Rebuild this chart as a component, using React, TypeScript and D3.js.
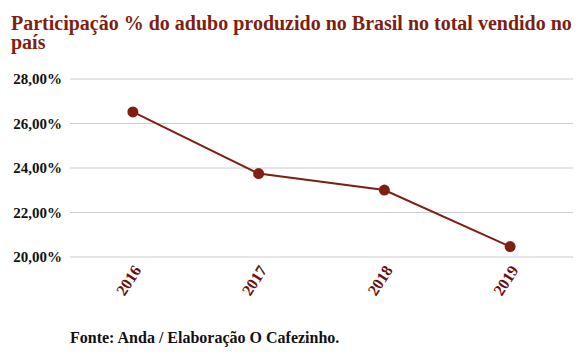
import React from "react";
import * as d3 from "d3";

const years = ["2016", "2017", "2018", "2019"];
const shares = [26.52, 23.75, 23.01, 20.47];
const yTicks = [20, 22, 24, 26, 28];
const title1 = "Participação % do adubo produzido no Brasil no total vendido no";
const title2 = "país";
const source = "Fonte: Anda / Elaboração O Cafezinho.";

export default function App() {
  const W = 581, H = 356;
  const left = 70, right = 573, top = 79, bottom = 257;
  const x = d3.scaleBand<string>().domain(years).range([left, right]);
  const y = d3.scaleLinear().domain([20, 28]).range([bottom, top]);
  const fmt = (v: number) => v.toFixed(2).replace(".", ",") + "%";
  const line = d3.line<number>().x((_, i) => x(years[i])! + x.bandwidth() / 2).y((d) => y(d));
  const red = "#7f1f12";
  return (
    <svg width={W} height={H} style={{ position: "absolute", left: 0, top: 0, fontFamily: "'Liberation Serif', serif" }}>
      <rect width={W} height={H} fill="#fff" />
      <text x={11} y={30} fontSize={20} fontWeight="bold" fill={red}>{title1}</text>
      <text x={11} y={49} fontSize={20} fontWeight="bold" fill={red}>{title2}</text>
      {yTicks.map((t) => (
        <g key={t}>
          <line x1={left} x2={right} y1={y(t)} y2={y(t)} stroke="#cccccc" strokeWidth={1} />
          <text x={62} y={y(t) + 5} textAnchor="end" fontSize={15} fontWeight="bold" fill="#111">{fmt(t)}</text>
        </g>
      ))}
      {years.map((yr) => {
        const cx = x(yr)! + x.bandwidth() / 2;
        return (
          <text key={yr} transform={`translate(${cx + 9},${bottom + 13}) rotate(-57)`} textAnchor="end" fontSize={16} fontWeight="bold" fill="#6b0d0d">{yr}</text>
        );
      })}
      <path d={line(shares) || ""} fill="none" stroke={red} strokeWidth={2} />
      {shares.map((v, i) => (
        <circle key={i} cx={x(years[i])! + x.bandwidth() / 2} cy={y(v)} r={5.5} fill={red} />
      ))}
      <text x={70} y={343} fontSize={16} fontWeight="bold" fill="#111">{source}</text>
    </svg>
  );
}
